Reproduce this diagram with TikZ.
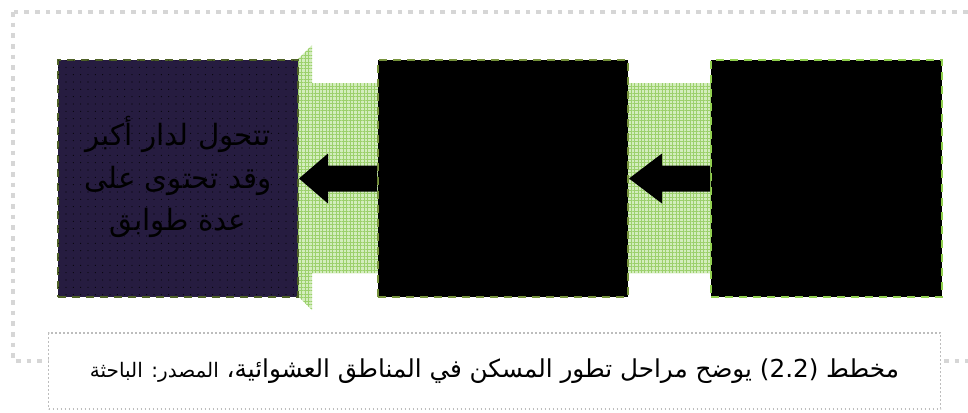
\documentclass[tikz,border=0pt]{standalone}
\usepackage{fontspec}
\TeXXeTstate=1
\newfontfamily\arabicfont[Script=Arabic]{DejaVu Sans}
\usetikzlibrary{patterns.meta,fit,calc}

\definecolor{framegray}{HTML}{D6D6D6}
\definecolor{captiongray}{HTML}{BDBDBD}
\definecolor{stagepurple}{HTML}{261C40}
\definecolor{olivedash}{HTML}{4F6228}
\definecolor{midgreen}{HTML}{77933C}
\definecolor{lightgreen}{HTML}{92D050}
\definecolor{hatchbg}{HTML}{D3EDBD}
\definecolor{hatchfg}{HTML}{9CD06C}

\tikzset{
  stagebox/.style={inner sep=0pt, line width=1.5pt,
    dash pattern=on 6pt off 4.5pt},
  flowband/.style={fill=hatchbg,
    postaction={pattern={Hatch[distance=2.6pt, line width=0.5pt]}, pattern color=hatchfg}},
  blockarrow/.style={fill=black},
  outerframe/.style={draw=framegray, line width=3.4pt, dash pattern=on 3.4pt off 4.6pt},
  captionframe/.style={draw=captiongray, fill=white, line width=1.3pt,
    dash pattern=on 1.3pt off 1.7pt},
}

\begin{document}
\begin{tikzpicture}[x=0.75pt, y=-0.75pt]
\useasboundingbox (0,0) rectangle (968,412);
\clip (0,0) rectangle (968,412);

% outer frame, running off the right edge
\draw[outerframe] (13,12) rectangle (1000,361);

% corner points of the three stages
\coordinate (s1a) at (58,60);  \coordinate (s1b) at (298,297);
\coordinate (s2a) at (378,60); \coordinate (s2b) at (628,297);
\coordinate (s3a) at (711,60); \coordinate (s3b) at (942,297);

% green hatched flow bands behind the stages
\fill[flowband] (400,83) -- (312,83) -- (312,45) -- (180,178) -- (312,310)
  -- (312,273) -- (400,273) -- cycle;
\fill[flowband] (716,83) -- (610,83) -- (610,64) -- (500,178) -- (610,292)
  -- (610,273) -- (716,273) -- cycle;

% the three stages
\node[stagebox, fit=(s1a)(s1b), draw=olivedash, fill=stagepurple,
  postaction={pattern={Dots[radius=0.4pt, distance=5.5pt]}, pattern color=black}]
  (stage1) {};
\node[stagebox, fit=(s2a)(s2b), draw=midgreen, fill=black] (stage2) {};
\node[stagebox, fit=(s3a)(s3b), draw=lightgreen, fill=black] (stage3) {};

\node[align=center, font=\arabicfont\fontsize{22}{32}\selectfont, text=black]
  at (178,177) (stage1text)
  {\beginR تتحول لدار أكبر\endR\\ \beginR وقد تحتوى على\endR\\ \beginR عدة طوابق\endR};

% black block arrows between the stages
\fill[blockarrow] (stage1.east) -- ++(29,-25) -- ++(0,12) -- ($(stage2.west)+(0,-13)$)
  -- ($(stage2.west)+(0,13)$) -- ($(stage1.east)+(29,13)$) -- ++(0,12) -- cycle;
\fill[blockarrow] (stage2.east) -- ++(33,-25) -- ++(0,12) -- ($(stage3.west)+(0,-13)$)
  -- ($(stage3.west)+(0,13)$) -- ($(stage2.east)+(33,13)$) -- ++(0,12) -- cycle;

% caption
\node[captionframe, minimum width=669pt, minimum height=57pt, inner sep=0pt]
  (captionbox) at (494.5,371) {};
\node[font=\arabicfont\fontsize{18.5}{22}\selectfont] at (captionbox.center) (captiontext)
  {\beginR مخطط \beginL(2.2)\endL{} يوضح مراحل تطور المسكن في المناطق العشوائية، {\fontsize{15}{18}\selectfont المصدر: الباحثة}\endR};
\end{tikzpicture}
\end{document}
